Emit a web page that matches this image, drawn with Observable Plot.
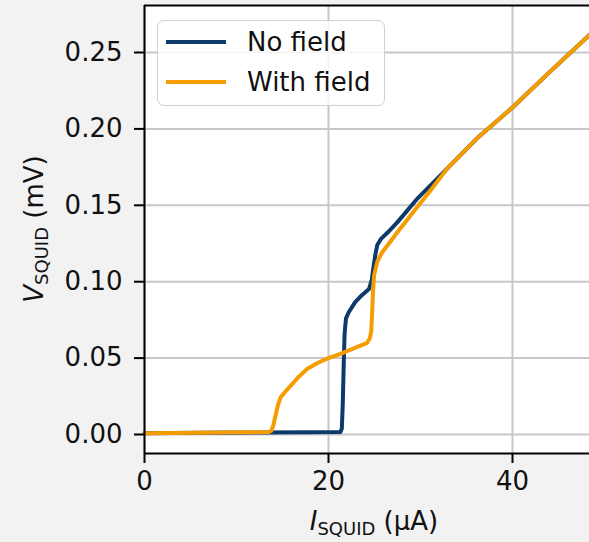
<!DOCTYPE html>
<html>
<head>
<meta charset="utf-8">
<script src="https://cdn.jsdelivr.net/npm/d3@7"></script>
<script src="https://cdn.jsdelivr.net/npm/@observablehq/plot@0.6"></script>
<style>
  html, body { margin: 0; padding: 0; background: #f2f2f2; overflow: hidden; }
  #wrap { position: relative; width: 589px; height: 542px; overflow: hidden; font-family: "DejaVu Sans", sans-serif; }
  #wrap > svg { max-width: none !important; width: 620px; height: 542px; display: block; }
  #legend { position: absolute; left: 157px; top: 20px; width: 228px; height: 86px;
    border: 1.5px solid #d0d0d0; border-radius: 7px; background: rgba(255,255,255,0.82); box-sizing: border-box; }
  .lg-row { position: absolute; left: 0; height: 30px; }
  .lg-sw { position: absolute; left: 8px; width: 60px; height: 4px; }
  .lg-tx { position: absolute; left: 89px; font-size: 26px; color: #111; white-space: nowrap; line-height: 30px; }
</style>
</head>
<body>
<div id="wrap"><div id="legend"></div></div>
<script>
// Series names and colours
const seriesNames = ["No field", "With field"];
const seriesColors = ["#0b3a6b", "#f59d00"];

// No field: I_SQUID (µA), V_SQUID (mV)
const noFieldI = [0, 6, 12, 18, 21.3, 21.45, 21.55, 21.65, 21.75, 21.9, 22.2, 22.9, 23.6, 24.4, 24.7, 24.9, 25.1, 25.3, 25.7, 26.4, 27.5, 29.6, 32.9, 36, 40, 44, 48.1, 50];
const noFieldV = [0.0008, 0.0011, 0.0013, 0.0015, 0.0017, 0.004, 0.02, 0.045, 0.066, 0.076, 0.080, 0.0866, 0.091, 0.0952, 0.101, 0.110, 0.118, 0.124, 0.128, 0.132, 0.139, 0.154, 0.174, 0.193, 0.214, 0.237, 0.260, 0.271];

// With field
const withFieldI = [0, 6, 10.4, 13.5, 13.8, 14.0, 14.2, 14.5, 14.8, 15.3, 15.9, 16.8, 17.7, 18.8, 19.9, 21.3, 22.8, 24.2, 24.5, 24.65, 24.75, 24.85, 24.95, 25.3, 25.8, 26.7, 27.5, 28.5, 29.6, 31, 32.9, 36, 40, 44, 48.1, 50];
const withFieldV = [0.0008, 0.0011, 0.0014, 0.0016, 0.0025, 0.006, 0.0113, 0.019, 0.0244, 0.028, 0.032, 0.038, 0.043, 0.0468, 0.0498, 0.0528, 0.0565, 0.0600, 0.063, 0.068, 0.081, 0.095, 0.104, 0.113, 0.119, 0.126, 0.1325, 0.140, 0.1485, 0.159, 0.174, 0.193, 0.214, 0.237, 0.260, 0.271];

// Tick values
const xTicks = [0, 20, 40];
const yTicks = [0, 0.05, 0.10, 0.15, 0.20, 0.25];
const xDomain = [0, 50];
const yDomain = [-0.01243, 0.28076];

const rows = [
  ...noFieldI.map((I, i) => ({I, V: noFieldV[i], s: seriesNames[0]})),
  ...withFieldI.map((I, i) => ({I, V: withFieldV[i], s: seriesNames[1]}))
];

const chart = Plot.plot({
  width: 620,
  height: 542,
  marginLeft: 144,
  marginRight: 16,
  marginTop: 5,
  marginBottom: 89,
  style: { fontFamily: "DejaVu Sans, sans-serif", fontSize: "26px", background: "#f2f2f2", color: "#111", overflow: "visible", maxWidth: "none" },
  x: { domain: xDomain },
  y: { domain: yDomain },
  color: { domain: seriesNames, range: seriesColors },
  marks: [
    Plot.frame({ fill: "white", stroke: null }),
    Plot.gridX(xTicks, { stroke: "#c8c8c8", strokeOpacity: 1, strokeWidth: 2 }),
    Plot.gridY(yTicks, { stroke: "#c8c8c8", strokeOpacity: 1, strokeWidth: 2 }),
    Plot.line(rows.filter(d => d.s === seriesNames[0]), { x: "I", y: "V", stroke: seriesColors[0], strokeWidth: 4, curve: "linear" }),
    Plot.line(rows.filter(d => d.s === seriesNames[1]), { x: "I", y: "V", stroke: seriesColors[1], strokeWidth: 4, curve: "linear" }),
    Plot.ruleX([xDomain[0]], { stroke: "black", strokeWidth: 2 }),
    Plot.ruleY([yDomain[0]], { stroke: "black", strokeWidth: 2 }),
    Plot.ruleY([yDomain[1]], { stroke: "black", strokeWidth: 2 }),
    Plot.axisX(xTicks, { tickSize: 10, tickPadding: 8, strokeWidth: 2, stroke: "black", fill: "#111", fontSize: 26, label: null }),
    Plot.axisY(yTicks, { tickSize: 10, tickPadding: 12, strokeWidth: 2, stroke: "black", fill: "#111", fontSize: 26, tickFormat: d3.format(".2f"), label: null })
  ]
});

document.getElementById("wrap").prepend(chart);

// Axis labels with subscripts
const svg = d3.select(chart);
const xl = svg.append("text")
  .attr("x", 374).attr("y", 530)
  .attr("text-anchor", "middle")
  .attr("font-size", 26).attr("fill", "#111");
xl.append("tspan").attr("font-style", "italic").text("I");
xl.append("tspan").attr("font-size", 18).attr("dy", 5).text("SQUID");
xl.append("tspan").attr("dy", -5).text(" (μA)");

const yl = svg.append("text")
  .attr("transform", "translate(43,229) rotate(-90)")
  .attr("text-anchor", "middle")
  .attr("font-size", 26).attr("fill", "#111");
yl.append("tspan").attr("font-style", "italic").text("V");
yl.append("tspan").attr("font-size", 18).attr("dy", 5).text("SQUID");
yl.append("tspan").attr("dy", -5).text(" (mV)");

// Legend
const legend = document.getElementById("legend");
seriesNames.forEach((name, i) => {
  const row = document.createElement("div");
  row.className = "lg-row";
  row.style.top = (6 + i * 40) + "px";
  const sw = document.createElement("div");
  sw.className = "lg-sw";
  sw.style.background = seriesColors[i];
  sw.style.top = "13px";
  const tx = document.createElement("div");
  tx.className = "lg-tx";
  tx.textContent = name;
  tx.style.top = "0px";
  row.appendChild(sw);
  row.appendChild(tx);
  legend.appendChild(row);
});
</script>
</body>
</html>
